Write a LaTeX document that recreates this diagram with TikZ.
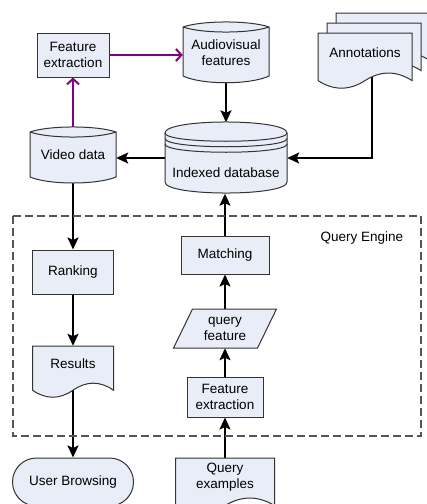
\documentclass[tikz,border=0pt]{standalone}
\usepackage{fontspec}
\setmainfont{Liberation Sans}
\usetikzlibrary{arrows.meta,backgrounds}
\definecolor{fillc}{RGB}{232,237,248}
\definecolor{bdc}{RGB}{51,51,51}
\definecolor{purp}{RGB}{128,0,128}
\definecolor{dashc}{RGB}{85,85,85}
\newcommand\fs{\fontsize{13.5}{16}\selectfont}
% document shape: x1, y1, w, h
\newcommand\drawdoc[4]{%
  \path[shp] (#1,#2) -- ({#1+#3},#2) -- ({#1+#3},{#2+0.85*#4})
    .. controls ({#1+#3-#3/6},{#2+0.67*#4}) and ({#1+2*#3/3},{#2+0.67*#4}) .. ({#1+#3/2},{#2+0.85*#4})
    .. controls ({#1+#3/3},{#2+1.03*#4}) and ({#1+#3/6},{#2+1.03*#4}) .. (#1,{#2+0.85*#4}) -- cycle;}
\begin{document}
\begin{tikzpicture}[x=1pt,y=-1pt,
  shp/.style={draw=bdc,fill=fillc,line width=1},
  lbl/.style={inner sep=0,align=center,font=\fs},
  box/.style={shp,lbl},
  arr/.style={line width=2,-{Stealth[length=12pt,width=11pt,inset=2.5pt]}},
  parr/.style={draw=purp,line width=2,-{Straight Barb[length=5.5pt,width=12pt]}}]
\useasboundingbox (0,0) rectangle (427,504);
\clip (0,0) rectangle (427,504);
\begin{scope}[on background layer]
  \fill[white] (0,0) rectangle (427,504);
\end{scope}

% dashed query engine container
\draw[dashc, dash pattern=on 8pt off 4pt, line width=1.2] (13,216) rectangle (421,436);
\node[lbl] (qelabel) at (362,238) {Query Engine};

% Feature extraction (top)
\node[box, minimum width=72, minimum height=44] (fe1) at (73,55) {Feature\\extraction};

% Audiovisual features
\path[shp] (183,27) .. controls (202,20.3) and (250,20.3) .. (269,27) -- (269,76)
  .. controls (250,85) and (202,85) .. (183,76) -- cycle;
\draw[bdc, line width=1] (183,27) .. controls (202,33.7) and (250,33.7) .. (269,27);
\node[lbl, minimum width=86, minimum height=61] (av) at (226,52.5) {Audiovisual\\features};

% Video data
\path[shp] (30,132) .. controls (49,125.3) and (97,125.3) .. (116,132) -- (116,177)
  .. controls (97,185) and (49,185) .. (30,177) -- cycle;
\draw[bdc, line width=1] (30,132) .. controls (49,138.7) and (97,138.7) .. (116,132);
\node[lbl, minimum width=86, minimum height=56] (vd) at (73,155) {Video data};

% Indexed database (datastore)
\path[shp] (165,133) .. controls (165,118.3) and (287,118.3) .. (287,133) -- (287,182)
  .. controls (287,196.7) and (165,196.7) .. (165,182) -- cycle;
\draw[bdc, line width=1] (165,133) .. controls (165,144) and (287,144) .. (287,133);
\draw[bdc, line width=1] (165,138.5) .. controls (165,149.5) and (287,149.5) .. (287,138.5);
\draw[bdc, line width=1] (165,144) .. controls (165,155) and (287,155) .. (287,144);
\node[lbl, minimum width=122, minimum height=71] (idx) at (226,158) {};
\node[lbl] (idxlabel) at (226,173) {Indexed database};

% Annotations (multi document)
\drawdoc{336}{13}{94}{56}
\drawdoc{327}{23}{94}{56}
\drawdoc{318}{33}{94}{56}
\node[lbl, minimum width=94, minimum height=40] (ann) at (365,53) {Annotations};

% Ranking
\node[box, minimum width=81, minimum height=44] (rk) at (73,272) {Ranking};

% Results
\drawdoc{32.5}{346}{81}{52}
\node[lbl, minimum width=81, minimum height=36] (res) at (73,364) {Results};

% User Browsing
\node[box, rounded corners=24, minimum width=121, minimum height=48] (ub) at (73,482) {User Browsing};

% Matching
\node[box, minimum width=88, minimum height=38] (mt) at (225,255) {Matching};

% query feature
\path[shp] (192.5,309) -- (276.5,309) -- (257.5,348) -- (173.5,348) -- cycle;
\node[lbl, minimum width=84, minimum height=39] (qf) at (225,328.5) {query\\feature};

% Feature extraction (query)
\node[box, minimum width=76, minimum height=40] (fe2) at (225,397) {Feature\\extraction};

% Query examples
\drawdoc{175.5}{458}{99}{56}
\node[lbl, minimum width=99, minimum height=38] (qe) at (225,477) {Query\\examples};

% connectors
\begin{scope}[on background layer]
  \draw[parr] (fe1.east) -- (fe1.east -| av.west);
  \draw[parr] (vd.north) -- (fe1.south);
  \draw[arr] (av.south) -- (av.south |- idx.north);
  \draw[arr] ([xshift=7pt]ann.south) |- (idx.east);
  \draw[arr] (idx.west) -- (idx.west -| vd.east);
  \draw[arr] (vd.south) -- (vd.south |- rk.north);
  \draw[arr] (rk.south) -- (res.north);
  \draw[arr] (res.south) -- (res.south |- ub.north);
  \draw[arr] (qe.north) -- (qe.north |- fe2.south);
  \draw[arr] (fe2.north) -- (fe2.north |- qf.south);
  \draw[arr] (qf.north) -- (qf.north |- mt.south);
  \draw[arr] (mt.north) -- (mt.north |- idx.south);
\end{scope}
\end{tikzpicture}
\end{document}
